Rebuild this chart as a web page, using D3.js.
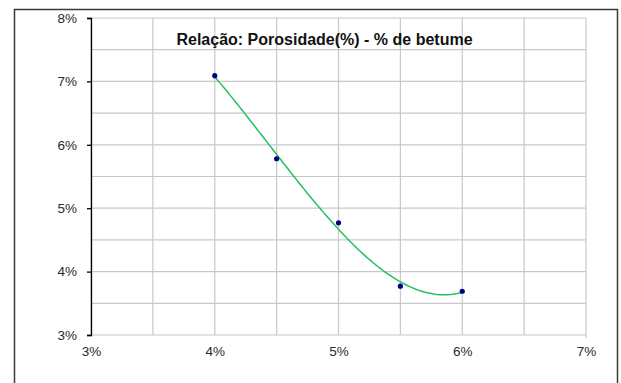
<!DOCTYPE html>
<html>
<head>
<meta charset="utf-8">
<script src="https://cdn.jsdelivr.net/npm/d3@7"></script>
<style>
  html, body { margin: 0; padding: 0; background: #fff; }
  svg { display: block; font-family: Arial, "Liberation Sans", sans-serif; }
</style>
</head>
<body>
<svg id="chart" width="621" height="383"></svg>
<script>
// Betume content (%) and measured porosity (%)
const betume = [4.0, 4.5, 5.0, 5.5, 6.0];
const porosidade = [7.09, 5.78, 4.77, 3.77, 3.69];
const xTicks = [3, 4, 5, 6, 7];
const yTicks = [3, 4, 5, 6, 7, 8];
const title = "Relação: Porosidade(%) - % de betume";

const svg = d3.select("#chart");
const m = { left: 91, right: 586, top: 18, bottom: 335 };

const x = d3.scaleLinear().domain([3, 7]).range([m.left, m.right]);
const y = d3.scaleLinear().domain([3, 8]).range([m.bottom, m.top]);

// Outer chart frame
svg.append("rect")
  .attr("x", 14.5).attr("y", 9.5)
  .attr("width", 603).attr("height", 400)
  .attr("fill", "none").attr("stroke", "#3a3a3a").attr("stroke-width", 1.5);

// Gridlines every 0.5%
const grid = svg.append("g").attr("stroke", "#c8c8c8").attr("stroke-width", 1.2);
d3.range(3, 7.01, 0.5).forEach(v => {
  grid.append("line")
    .attr("x1", x(v)).attr("x2", x(v))
    .attr("y1", m.top).attr("y2", m.bottom + (v === 7 ? 3 : 0));
});
d3.range(3, 8.01, 0.5).forEach(v => {
  grid.append("line")
    .attr("x1", m.left).attr("x2", m.right)
    .attr("y1", y(v)).attr("y2", y(v));
});

const labelFont = "Arial, 'Liberation Sans', sans-serif";

// Y axis (black line with outward ticks)
const yAxis = svg.append("g")
  .attr("transform", `translate(${m.left},0)`)
  .call(d3.axisLeft(y).tickValues(yTicks).tickSize(4).tickPadding(10).tickFormat(d => d + "%"));
yAxis.select(".domain").attr("stroke", "#000").attr("stroke-width", 1.3);
yAxis.selectAll(".tick line").attr("stroke", "#000").attr("stroke-width", 1.3);
yAxis.selectAll(".tick text")
  .attr("fill", "#2a2a2a").style("font-size", "13.5px").style("font-family", labelFont);

// X axis labels only
const xAxis = svg.append("g")
  .attr("transform", `translate(0,${m.bottom})`)
  .call(d3.axisBottom(x).tickValues(xTicks).tickSize(0).tickPadding(11).tickFormat(d => d + "%"));
xAxis.select(".domain").remove();
xAxis.selectAll(".tick text")
  .attr("fill", "#2a2a2a").style("font-size", "13.5px").style("font-family", labelFont);

// Cubic least-squares trendline through the measured points
function polyfit(xs, ys, deg) {
  const n = deg + 1;
  const A = Array.from({ length: n }, () => new Array(n + 1).fill(0));
  for (let r = 0; r < n; r++) {
    for (let c = 0; c < n; c++) {
      A[r][c] = d3.sum(xs, xv => Math.pow(xv, r + c));
    }
    A[r][n] = d3.sum(xs.map((xv, i) => Math.pow(xv, r) * ys[i]));
  }
  for (let i = 0; i < n; i++) {
    let p = i;
    for (let k = i + 1; k < n; k++) if (Math.abs(A[k][i]) > Math.abs(A[p][i])) p = k;
    [A[i], A[p]] = [A[p], A[i]];
    for (let k = i + 1; k < n; k++) {
      const f = A[k][i] / A[i][i];
      for (let j = i; j <= n; j++) A[k][j] -= f * A[i][j];
    }
  }
  const coef = new Array(n).fill(0);
  for (let i = n - 1; i >= 0; i--) {
    let s = A[i][n];
    for (let j = i + 1; j < n; j++) s -= A[i][j] * coef[j];
    coef[i] = s / A[i][i];
  }
  return coef;
}
const coef = polyfit(betume, porosidade, 3);
const evalPoly = xv => coef.reduce((s, c, i) => s + c * Math.pow(xv, i), 0);
const [x0, x1] = d3.extent(betume);
const trend = d3.range(0, 101).map(i => {
  const xv = x0 + (x1 - x0) * i / 100;
  return [xv, evalPoly(xv)];
});
svg.append("path")
  .datum(trend)
  .attr("fill", "none")
  .attr("stroke", "#22c060")
  .attr("stroke-width", 1.5)
  .attr("d", d3.line().x(d => x(d[0])).y(d => y(d[1])));

// Data points
svg.append("g").selectAll("circle")
  .data(betume.map((b, i) => [b, porosidade[i]]))
  .join("circle")
  .attr("cx", d => x(d[0]))
  .attr("cy", d => y(d[1]))
  .attr("r", 2.6)
  .attr("fill", "#000080");

// Title
svg.append("text")
  .attr("x", 324.5).attr("y", 45)
  .attr("text-anchor", "middle")
  .attr("fill", "#111")
  .style("font-size", "16px")
  .style("font-weight", "bold")
  .text(title);
</script>
</body>
</html>
